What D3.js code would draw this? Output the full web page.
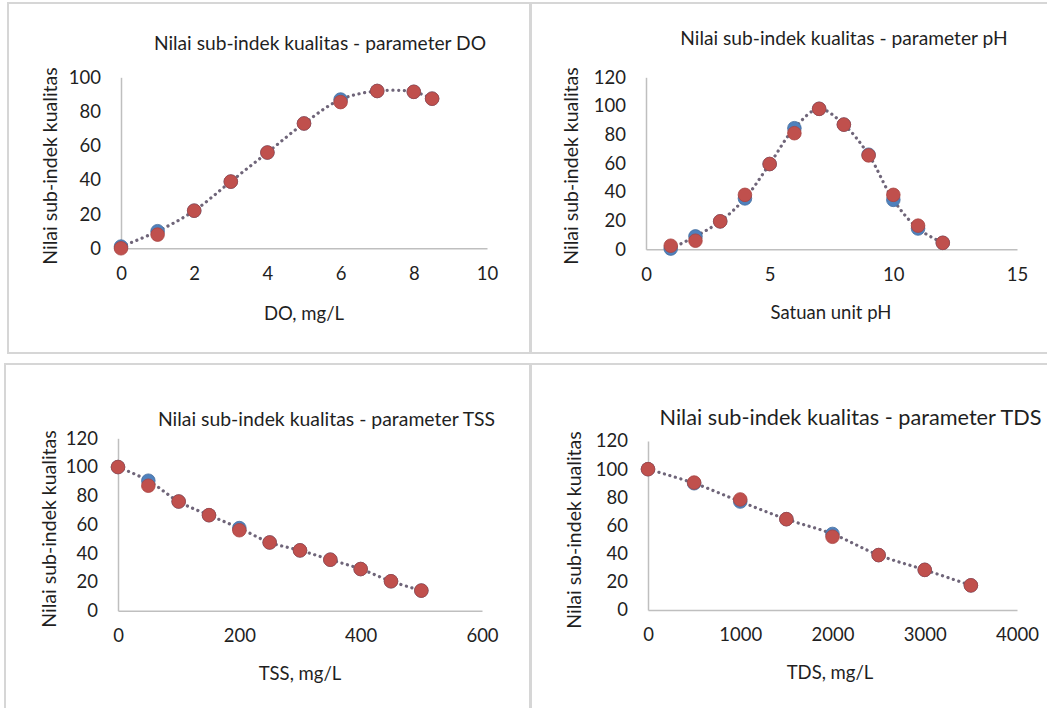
<!DOCTYPE html>
<html>
<head>
<meta charset="utf-8">
<script src="https://cdn.jsdelivr.net/npm/d3@7"></script>
<style>
  html, body { margin: 0; padding: 0; background: #fff; }
  svg { display: block; }
  text { font-family: Lato, "Open Sans", sans-serif; fill: #1f1f1f; }
</style>
</head>
<body>
<svg id="chart" width="1047" height="708"></svg>
<script>
// Sub-index curves (blue) and computed sub-index values (red) for four parameters
const doX      = [0, 1, 2, 3, 4, 5, 6, 7, 8, 8.5];
const doCurve  = [1, 10, 22, 39, 56, 73, 87, 92, 91.5, 87.5];
const doCalc   = [0, 8, 22, 39, 56, 73, 85.5, 92, 91.5, 87.5];

const phX      = [1, 2, 3, 4, 5, 6, 7, 8, 9, 10, 11, 12];
const phCurve  = [0.5, 9, 19.5, 35.5, 59.5, 84.5, 98, 87, 66, 34.5, 14.5, 4.5];
const phCalc   = [2.5, 6, 19.5, 38, 59.5, 81, 98, 87, 65.5, 38, 16.5, 4.5];

const tssX     = [0, 50, 100, 150, 200, 250, 300, 350, 400, 450, 500];
const tssCurve = [100, 90.5, 76, 66.5, 57.5, 47.5, 42, 35.5, 29, 20.5, 14];
const tssCalc  = [100, 87, 76, 66.5, 56, 47.5, 42, 35.5, 29, 20.5, 14];

const tdsX     = [0, 500, 1000, 1500, 2000, 2500, 3000, 3500];
const tdsCurve = [100, 90, 77, 64.5, 54, 39, 28.5, 17.5];
const tdsCalc  = [100, 90.5, 78.5, 64.5, 52, 39, 28.5, 17.5];

const yLabel = "Nilai sub-indek kualitas";

const panels = [
  { frame: [8, 3, 522, 350], title: "Nilai sub-indek kualitas - parameter DO", titleAt: [320, 42], titleSize: 19.2,
    xTitle: "DO, mg/L", xTitleAt: [304, 313], yTitleAt: [49, 166],
    xs: doX, curve: doCurve, calc: doCalc, xDomain: [0, 10], xStep: 2, yDomain: [0, 100],
    area: { left: 121, right: 487, top: 77.3, bottom: 248.3 } },
  { frame: [531, 3, 520, 350], title: "Nilai sub-indek kualitas - parameter pH", titleAt: [844, 37], titleSize: 19.2,
    xTitle: "Satuan unit pH", xTitleAt: [831, 312], yTitleAt: [570.5, 166],
    xs: phX, curve: phCurve, calc: phCalc, xDomain: [0, 15], xStep: 5, yDomain: [0, 120],
    area: { left: 646, right: 1017, top: 77.3, bottom: 249.3 } },
  { frame: [5, 364, 525, 350], title: "Nilai sub-indek kualitas - parameter TSS", titleAt: [326.5, 418], titleSize: 19.4,
    xTitle: "TSS, mg/L", xTitleAt: [300, 673], yTitleAt: [48, 529],
    xs: tssX, curve: tssCurve, calc: tssCalc, xDomain: [0, 600], xStep: 200, yDomain: [0, 120],
    area: { left: 118, right: 482, top: 438.3, bottom: 610.7 } },
  { frame: [531, 364, 520, 350], title: "Nilai sub-indek kualitas - parameter TDS", titleAt: [850.5, 417], titleSize: 21.7,
    xTitle: "TDS, mg/L", xTitleAt: [830, 672], yTitleAt: [573, 530],
    xs: tdsX, curve: tdsCurve, calc: tdsCalc, xDomain: [0, 4000], xStep: 1000, yDomain: [0, 120],
    area: { left: 648, right: 1017, top: 441, bottom: 610 } }
];

const svg = d3.select("#chart");

panels.forEach(p => {
  const g = svg.append("g");

  // panel frame
  g.append("rect")
    .attr("x", p.frame[0]).attr("y", p.frame[1])
    .attr("width", p.frame[2]).attr("height", p.frame[3])
    .attr("fill", "#fff").attr("stroke", "#d6d6d6").attr("stroke-width", 2);

  const x = d3.scaleLinear().domain(p.xDomain).range([p.area.left, p.area.right]);
  const y = d3.scaleLinear().domain(p.yDomain).range([p.area.bottom, p.area.top]);

  const xTicks = d3.range(p.xDomain[0], p.xDomain[1] + 1e-9, p.xStep);
  const yTicks = d3.range(p.yDomain[0], p.yDomain[1] + 1e-9, 20);

  // axes
  const xAxis = d3.axisBottom(x).tickValues(xTicks).tickSize(0).tickPadding(20).tickFormat(d3.format("d"));
  const yAxis = d3.axisLeft(y).tickValues(yTicks).tickSize(0).tickPadding(20).tickFormat(d3.format("d"));

  const gx = g.append("g").attr("transform", `translate(0,${p.area.bottom})`).call(xAxis);
  const gy = g.append("g").attr("transform", `translate(${p.area.left},0)`).call(yAxis);
  [gx, gy].forEach(a => {
    a.select(".domain").attr("stroke", "#bfbfbf").attr("stroke-width", 1.5);
    a.selectAll("text").attr("font-family", "Lato, sans-serif").attr("font-size", 18.5).attr("fill", "#1f1f1f");
  });
  gx.selectAll("text").attr("dy", "0.62em");

  // chart title and axis titles
  g.append("text").attr("x", p.titleAt[0]).attr("y", p.titleAt[1])
    .attr("text-anchor", "middle").attr("dominant-baseline", "central")
    .attr("font-size", p.titleSize).text(p.title);
  g.append("text").attr("x", p.xTitleAt[0]).attr("y", p.xTitleAt[1])
    .attr("text-anchor", "middle").attr("dominant-baseline", "central")
    .attr("font-size", 18.5).text(p.xTitle);
  g.append("text")
    .attr("transform", `translate(${p.yTitleAt[0]},${p.yTitleAt[1]}) rotate(-90)`)
    .attr("text-anchor", "middle").attr("dominant-baseline", "central")
    .attr("font-size", 19.5).text(yLabel);

  // dotted smoothed line through the curve points
  const pts = p.xs.map((v, i) => [v, p.curve[i]]);
  const line = d3.line().x(d => x(d[0])).y(d => y(d[1])).curve(d3.curveCatmullRom.alpha(0.5));
  g.append("path").attr("d", line(pts))
    .attr("fill", "none").attr("stroke", "#6f6579").attr("stroke-width", 3.2)
    .attr("stroke-linecap", "round").attr("stroke-dasharray", "0.1 5.6");

  // markers: curve points (blue) under computed points (red)
  g.append("g").selectAll("circle").data(pts).join("circle")
    .attr("cx", d => x(d[0])).attr("cy", d => y(d[1])).attr("r", 6.8)
    .attr("fill", "#4f81bd").attr("stroke", "#466f9f").attr("stroke-width", 0.8);
  g.append("g").selectAll("circle").data(p.xs.map((v, i) => [v, p.calc[i]])).join("circle")
    .attr("cx", d => x(d[0])).attr("cy", d => y(d[1])).attr("r", 6.8)
    .attr("fill", "#c0504d").attr("stroke", "#a84441").attr("stroke-width", 0.8);
});
</script>
</body>
</html>
